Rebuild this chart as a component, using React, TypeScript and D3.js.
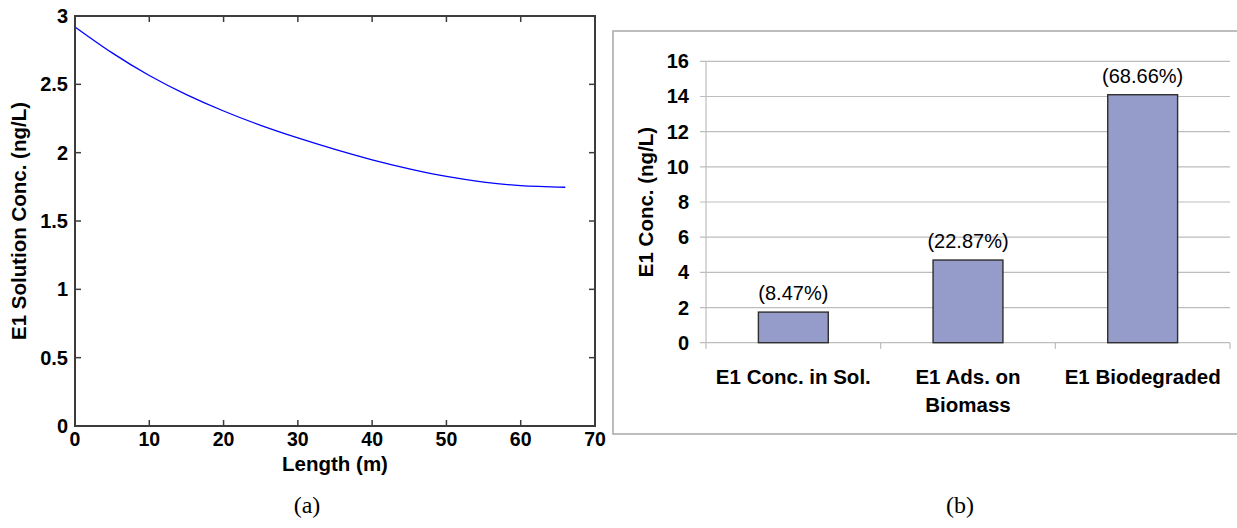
import React from "react";
import * as d3 from "d3";

// (a) E1 solution concentration along the reactor length
const lengths = [0, 5, 10, 15, 20, 25, 30, 35, 40, 45, 50, 55, 60, 66];
const solutionConc = [2.92, 2.73, 2.565, 2.425, 2.305, 2.2, 2.108, 2.024, 1.948, 1.882, 1.826, 1.785, 1.759, 1.747];
const xTicksA = [0, 10, 20, 30, 40, 50, 60, 70];
const yTicksA = [0, 0.5, 1, 1.5, 2, 2.5, 3];

// (b) E1 mass balance
const categories = ["E1 Conc. in Sol.", "E1 Ads. on|Biomass", "E1 Biodegraded"];
const barValues = [1.74, 4.7, 14.1];
const barLabels = ["(8.47%)", "(22.87%)", "(68.66%)"];
const yTicksB = [0, 2, 4, 6, 8, 10, 12, 14, 16];

const FONT = "Arial, 'Liberation Sans', Helvetica, sans-serif";

function PanelA() {
  const left = 75, right = 595, top = 16, bottom = 426;
  const x = d3.scaleLinear().domain([0, 70]).range([left, right]);
  const y = d3.scaleLinear().domain([0, 3]).range([bottom, top]);
  const line = d3
    .line<number>()
    .x((_, i) => x(lengths[i]))
    .y((d) => y(d))
    .curve(d3.curveNatural);
  const axisColor = "#3c3c3c";
  const tickLen = 6;
  return (
    <g>
      <path d={line(solutionConc) || ""} fill="none" stroke="#0000ff" strokeWidth={1.3} />
      <rect x={left} y={top} width={right - left} height={bottom - top} fill="none" stroke={axisColor} strokeWidth={2} />
      {xTicksA.slice(1, -1).map((t) => (
        <g key={"xt" + t}>
          <line x1={x(t)} x2={x(t)} y1={bottom} y2={bottom - tickLen} stroke={axisColor} strokeWidth={1.5} />
          <line x1={x(t)} x2={x(t)} y1={top} y2={top + tickLen} stroke={axisColor} strokeWidth={1.5} />
        </g>
      ))}
      {yTicksA.slice(1, -1).map((t) => (
        <g key={"yt" + t}>
          <line x1={left} x2={left + tickLen} y1={y(t)} y2={y(t)} stroke={axisColor} strokeWidth={1.5} />
          <line x1={right} x2={right - tickLen} y1={y(t)} y2={y(t)} stroke={axisColor} strokeWidth={1.5} />
        </g>
      ))}
      {xTicksA.map((t) => (
        <text key={"xl" + t} x={x(t)} y={446} textAnchor="middle" fontSize={19.5} fontWeight="bold" fontFamily={FONT}>
          {t}
        </text>
      ))}
      {yTicksA.map((t) => (
        <text key={"yl" + t} x={68} y={y(t) + 7} textAnchor="end" fontSize={20} fontWeight="bold" fontFamily={FONT}>
          {t}
        </text>
      ))}
      <text x={335} y={471} textAnchor="middle" fontSize={20.5} fontWeight="bold" fontFamily={FONT}>
        Length (m)
      </text>
      <text
        transform={`translate(26,${(top + bottom) / 2}) rotate(-90)`}
        textAnchor="middle"
        fontSize={20.5}
        fontWeight="bold"
        fontFamily={FONT}
      >
        E1 Solution Conc. (ng/L)
      </text>
    </g>
  );
}

function PanelB() {
  const left = 706, right = 1230, top = 61.3, bottom = 342.7;
  const x = d3.scaleBand<string>().domain(categories).range([left, right]).paddingInner(0.6).paddingOuter(0.3);
  const y = d3.scaleLinear().domain([0, 16]).range([bottom, top]);
  const step = x.step();
  const gridColor = "#bdbdbd";
  return (
    <g>
      <rect x={613} y={31} width={640} height={403} fill="none" stroke="#a8a8a8" strokeWidth={1.5} />
      {yTicksB.map((t) => (
        <g key={"g" + t}>
          <line x1={left - 6} x2={right} y1={y(t)} y2={y(t)} stroke={gridColor} strokeWidth={1.2} />
          <text x={689} y={y(t) + 7} textAnchor="end" fontSize={20} fontWeight="bold" fontFamily={FONT}>
            {t}
          </text>
        </g>
      ))}
      <line x1={left} x2={left} y1={top} y2={bottom + 6} stroke={gridColor} strokeWidth={1.2} />
      {categories.map((c, i) => {
        const sep = left + step * (i + 1);
        return <line key={"s" + i} x1={sep} x2={sep} y1={bottom} y2={bottom + 6} stroke={gridColor} strokeWidth={1.2} />;
      })}
      {categories.map((c, i) => (
        <g key={"b" + i}>
          <rect
            x={x(c)}
            y={y(barValues[i])}
            width={x.bandwidth()}
            height={bottom - y(barValues[i])}
            fill="#959cc9"
            stroke="#2e2e2e"
            strokeWidth={1.4}
          />
          <text
            x={(x(c) || 0) + x.bandwidth() / 2}
            y={y(barValues[i]) - 12}
            textAnchor="middle"
            fontSize={20}
            fontFamily={FONT}
          >
            {barLabels[i]}
          </text>
          {c.split("|").map((ln, j) => (
            <text
              key={j}
              x={(x(c) || 0) + x.bandwidth() / 2}
              y={384 + j * 28}
              textAnchor="middle"
              fontSize={20.5}
              fontWeight="bold"
              fontFamily={FONT}
            >
              {ln}
            </text>
          ))}
        </g>
      ))}
      <text
        transform={`translate(653,${(top + bottom) / 2}) rotate(-90)`}
        textAnchor="middle"
        fontSize={20.5}
        fontWeight="bold"
        fontFamily={FONT}
      >
        E1 Conc. (ng/L)
      </text>
    </g>
  );
}

export default function App() {
  return (
    <svg
      width={1237}
      height={528}
      viewBox="0 0 1237 528"
      style={{ position: "absolute", left: 0, top: 0, background: "#fff" }}
    >
      <rect x={0} y={0} width={1237} height={528} fill="#fff" />
      <PanelA />
      <PanelB />
      <text x={307} y={513} textAnchor="middle" fontSize={24} fontFamily="'Liberation Serif', 'Times New Roman', serif">
        (a)
      </text>
      <text x={960} y={513} textAnchor="middle" fontSize={24} fontFamily="'Liberation Serif', 'Times New Roman', serif">
        (b)
      </text>
    </svg>
  );
}
